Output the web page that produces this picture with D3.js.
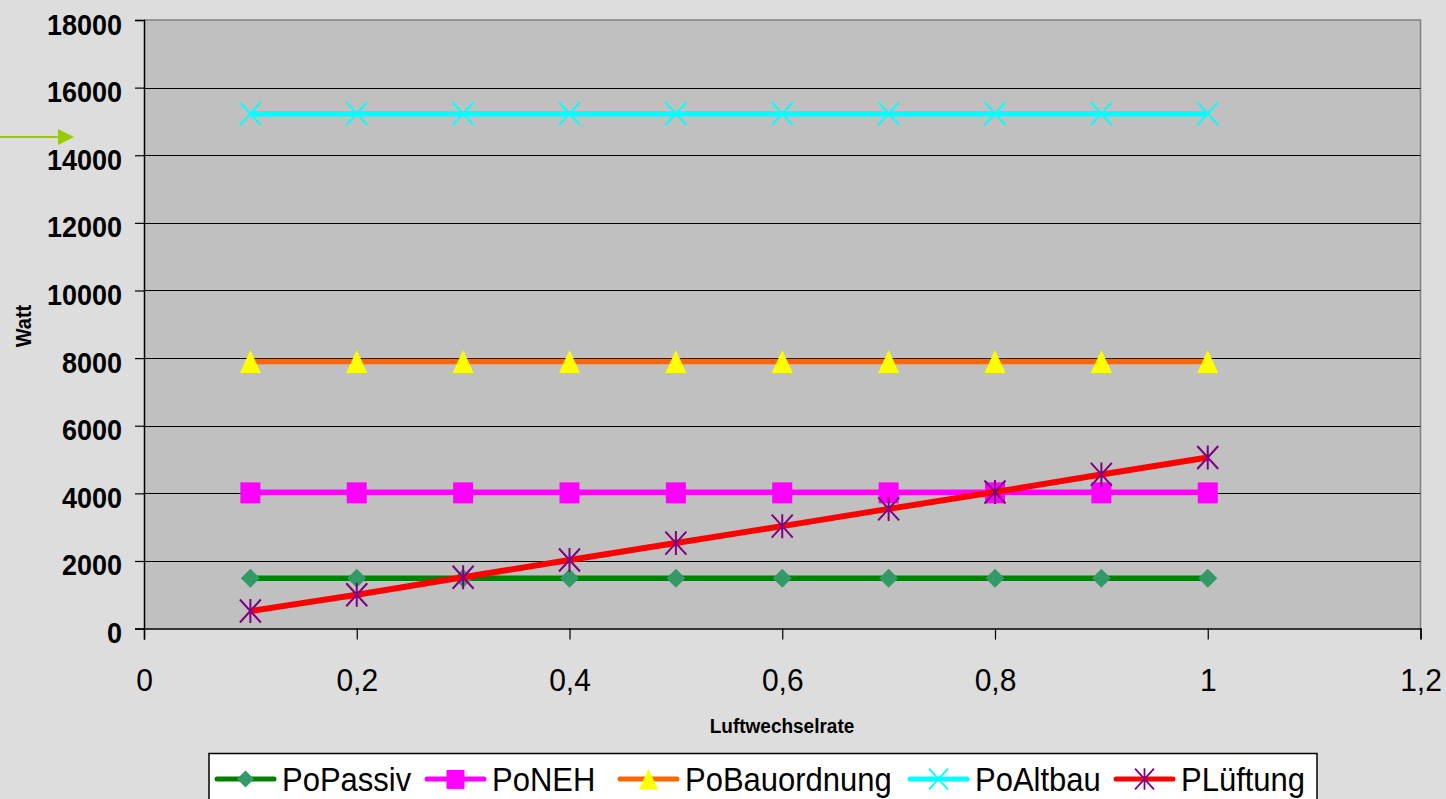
<!DOCTYPE html>
<html><head><meta charset="utf-8">
<script src="https://cdn.jsdelivr.net/npm/d3@7"></script>
<style>html,body{margin:0;padding:0;background:#dddddd;}svg{display:block;font-family:"Liberation Sans",Arial,sans-serif;}</style>
</head><body><svg id="c" width="1446" height="799"></svg>
<script>
const xValues = [0.1,0.2,0.3,0.4,0.5,0.6,0.7,0.8,0.9,1.0];
const poPassiv = [1490,1490,1490,1490,1490,1490,1490,1490,1490,1490];
const poNEH = [4030,4030,4030,4030,4030,4030,4030,4030,4030,4030];
const poBauordnung = [7900,7900,7900,7900,7900,7900,7900,7900,7900,7900];
const poAltbau = [15230,15230,15230,15230,15230,15230,15230,15230,15230,15230];
const pLueftung = [520,1000,1520,2030,2530,3030,3540,4040,4560,5060];
const seriesNames = ["PoPassiv","PoNEH","PoBauordnung","PoAltbau","PLüftung"];
const yTicks = [0,2000,4000,6000,8000,10000,12000,14000,16000,18000];
const xTicks = [0,0.2,0.4,0.6,0.8,1.0,1.2];
const xTitle = "Luftwechselrate";
const yTitle = "Watt";

const svg = d3.select("#c");
const L=144, R=1420.5, T=20, B=628.6;
const x = d3.scaleLinear().domain([0,1.2]).range([L,R]);
const y = d3.scaleLinear().domain([0,18000]).range([B,T]);

svg.append("rect").attr("width",1446).attr("height",799).attr("fill","#dddddd");
svg.append("rect").attr("x",L).attr("y",T).attr("width",R-L).attr("height",B-T).attr("fill","#c0c0c0");
svg.append("path").attr("d",`M${L},${T}H${R}V${B}`).attr("fill","none").attr("stroke","#808080").attr("stroke-width",1.5);
svg.append("g").selectAll("line").data(yTicks.filter(d=>d>0&&d<18000)).join("line")
  .attr("x1",L).attr("x2",R).attr("y1",d=>Math.round(y(d))+0.5).attr("y2",d=>Math.round(y(d))+0.5)
  .attr("stroke","#000").attr("stroke-width",1);

// y axis
const yAxis = d3.axisLeft(y).tickValues(yTicks).tickSize(9).tickFormat(d3.format("d"));
const gy = svg.append("g").attr("transform",`translate(${L},0)`).call(yAxis);
gy.select(".domain").attr("stroke","#000").attr("stroke-width",1.5);
gy.selectAll(".tick line").attr("stroke","#000").attr("stroke-width",1.2);
gy.selectAll(".tick text").attr("x",0).attr("y",0).attr("dy",0)
  .attr("transform","translate(-22,14) scale(1,1.09)").attr("fill","#000")
  .style("font-size","27px").style("font-weight","bold").style("font-family","'Liberation Sans',Arial,sans-serif");

// x axis
const xAxis = d3.axisBottom(x).tickValues(xTicks).tickSize(11).tickFormat(d=>d3.format("")(d).replace(".",","));
const gx = svg.append("g").attr("transform",`translate(0,${B})`).call(xAxis);
gx.select(".domain").attr("stroke","#000").attr("stroke-width",1.5);
gx.selectAll(".tick line").attr("stroke","#000").attr("stroke-width",1.2);
gx.selectAll(".tick text").attr("x",0).attr("y",0).attr("dy",0)
  .attr("transform","translate(0,62.5) scale(1,1.05)").attr("fill","#000")
  .style("font-size","30px").style("font-family","'Liberation Sans',Arial,sans-serif");

// titles
svg.append("text").attr("transform","translate(782,733) scale(1,1.08)").attr("text-anchor","middle")
  .style("font-size","19px").style("font-weight","bold").text(xTitle);
svg.append("text").attr("transform","translate(31,326) rotate(-90) scale(1,1.08)").attr("text-anchor","middle")
  .style("font-size","20px").style("font-weight","bold").text(yTitle);

function marker(g, type, fill, stroke){
  if(type==="diamond"){
    g.append("path").attr("d","M0,-9.5L9.5,0L0,9.5L-9.5,0Z").attr("fill",fill);
  } else if(type==="square"){
    g.append("rect").attr("x",-10).attr("y",-10).attr("width",20).attr("height",21).attr("fill",fill);
  } else if(type==="triangle"){
    g.append("path").attr("d","M0,-11.5L10.5,11.5L-10.5,11.5Z").attr("fill",fill);
  } else if(type==="x"){
    g.append("path").attr("d","M-10.5,-11.5L10.5,11.5M10.5,-11.5L-10.5,11.5").attr("stroke",stroke).attr("stroke-width",2);
  } else if(type==="star"){
    g.append("path").attr("d","M-10.5,-11.5L10.5,11.5M10.5,-11.5L-10.5,11.5M0,-12L0,12").attr("stroke",stroke).attr("stroke-width",2);
  }
}
const series = [
  {name:seriesNames[0], vals:poPassiv, line:"#008000", lw:5.5, m:"diamond", mf:"#339966", ms:null},
  {name:seriesNames[1], vals:poNEH, line:"#ff00ff", lw:5.5, m:"square", mf:"#ff00ff", ms:null},
  {name:seriesNames[2], vals:poBauordnung, line:"#ff6600", lw:5.5, m:"triangle", mf:"#ffff00", ms:null},
  {name:seriesNames[3], vals:poAltbau, line:"#00ffff", lw:5.5, m:"x", mf:null, ms:"#00ffff"},
  {name:seriesNames[4], vals:pLueftung, line:"#ff0000", lw:6, m:"star", mf:null, ms:"#800080"}
];
const lineGen = d3.line().x(d=>x(d[0])).y(d=>y(d[1]));
series.forEach(s=>{
  const pts = xValues.map((xv,i)=>[xv,s.vals[i]]);
  svg.append("path").attr("d",lineGen(pts)).attr("fill","none").attr("stroke",s.line).attr("stroke-width",s.lw);
  pts.forEach(p=>{
    const g = svg.append("g").attr("transform",`translate(${x(p[0])},${y(p[1])})`);
    marker(g,s.m,s.mf,s.ms);
  });
});

// green arrow annotation
svg.append("line").attr("x1",0).attr("x2",60).attr("y1",137).attr("y2",137).attr("stroke","#99cc00").attr("stroke-width",2);
svg.append("path").attr("d","M58,129L74,137L58,145Z").attr("fill","#99cc00");

// legend
svg.append("rect").attr("x",209).attr("y",753.5).attr("width",1108).attr("height",60)
  .attr("fill","#fff").attr("stroke","#000").attr("stroke-width",1.5);
const legX = [217,427,620,910,1116];
series.forEach((s,i)=>{
  const lx = legX[i], ly = 779;
  svg.append("line").attr("x1",lx).attr("x2",lx+57).attr("y1",ly).attr("y2",ly).attr("stroke",s.line).attr("stroke-width",5).attr("stroke-linecap","round");
  const g = svg.append("g").attr("transform",`translate(${lx+28.5},${ly}) scale(0.9)`);
  marker(g,s.m,s.mf,s.ms);
  svg.append("text").attr("transform",`translate(${lx+65},790.5) scale(1,1.1)`).style("font-size","31px").attr("fill","#000").text(s.name);
});
</script></body></html>
